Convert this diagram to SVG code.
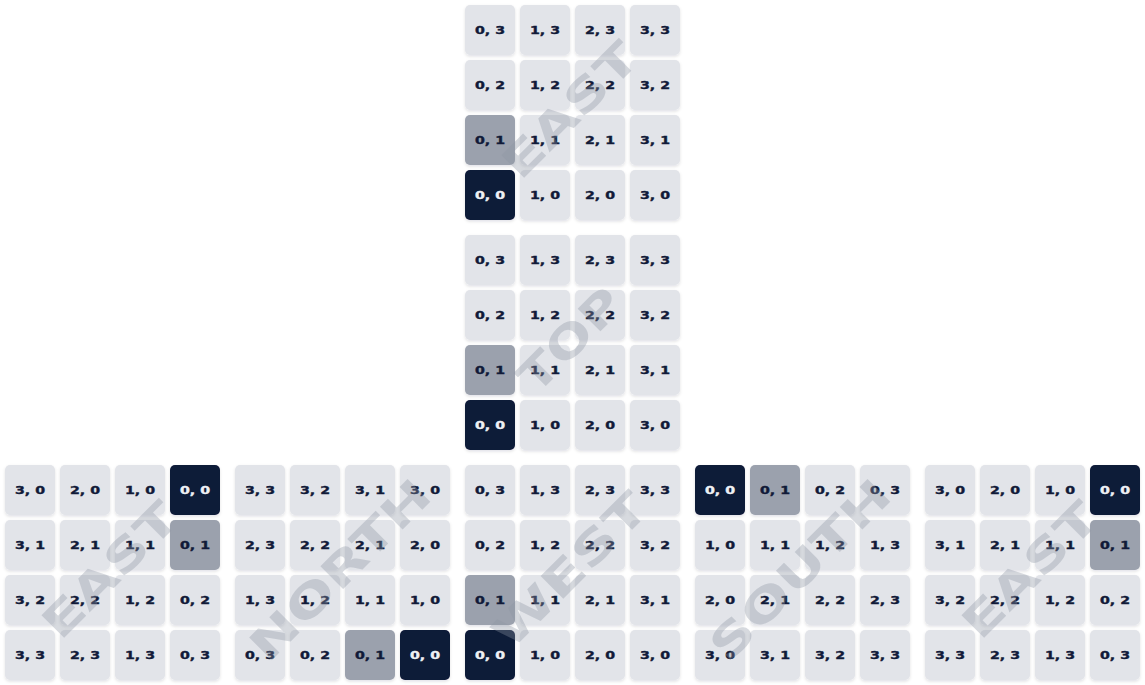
<svg xmlns="http://www.w3.org/2000/svg" width="1145" height="685" viewBox="0 0 1145 685">
<defs>
<filter id="sh" x="-20%" y="-20%" width="140%" height="150%"><feDropShadow dx="0" dy="1.5" stdDeviation="1.5" flood-color="#0f172a" flood-opacity="0.12"/></filter>
</defs>
<style>
rect{width:50px;height:50px;rx:5px;ry:5px;fill:#e2e4e9;filter:url(#sh)}
rect.g{fill:#9ba1ad}
rect.d{fill:#111a38}
text{font-family:"DejaVu Sans","Liberation Sans",sans-serif;font-weight:bold;font-size:11px;fill:#111a38;stroke:#111a38;stroke-width:0.4px;text-anchor:middle}
text.w{fill:#eef0f4;stroke:#eef0f4}
.wm{font-family:"DejaVu Sans","Liberation Sans",sans-serif;font-weight:bold;font-size:44px;fill:#8d94a3;fill-opacity:0.35;stroke:none;text-anchor:middle;dominant-baseline:central}
</style>
<rect x="0" y="0" width="1145" height="685" style="width:1145px;height:685px;fill:#ffffff;filter:none;rx:0;ry:0"/>

<g id="grid-east-top">
<g id="a03"><rect x="465" y="5"/><text x="490" y="34" textLength="30" lengthAdjust="spacingAndGlyphs">0, 3</text></g>
<g id="a13"><rect x="520" y="5"/><text x="545" y="34" textLength="30" lengthAdjust="spacingAndGlyphs">1, 3</text></g>
<g id="a23"><rect x="575" y="5"/><text x="600" y="34" textLength="30" lengthAdjust="spacingAndGlyphs">2, 3</text></g>
<g id="a33"><rect x="630" y="5"/><text x="655" y="34" textLength="30" lengthAdjust="spacingAndGlyphs">3, 3</text></g>
<g id="a02"><rect x="465" y="60"/><text x="490" y="89" textLength="30" lengthAdjust="spacingAndGlyphs">0, 2</text></g>
<g id="a12"><rect x="520" y="60"/><text x="545" y="89" textLength="30" lengthAdjust="spacingAndGlyphs">1, 2</text></g>
<g id="a22"><rect x="575" y="60"/><text x="600" y="89" textLength="30" lengthAdjust="spacingAndGlyphs">2, 2</text></g>
<g id="a32"><rect x="630" y="60"/><text x="655" y="89" textLength="30" lengthAdjust="spacingAndGlyphs">3, 2</text></g>
<g id="a01"><rect class="g" x="465" y="115"/><text x="490" y="144" textLength="30" lengthAdjust="spacingAndGlyphs">0, 1</text></g>
<g id="a11"><rect x="520" y="115"/><text x="545" y="144" textLength="30" lengthAdjust="spacingAndGlyphs">1, 1</text></g>
<g id="a21"><rect x="575" y="115"/><text x="600" y="144" textLength="30" lengthAdjust="spacingAndGlyphs">2, 1</text></g>
<g id="a31"><rect x="630" y="115"/><text x="655" y="144" textLength="30" lengthAdjust="spacingAndGlyphs">3, 1</text></g>
<g id="a00"><rect class="d" x="465" y="170"/><text class="w" x="490" y="199" textLength="30" lengthAdjust="spacingAndGlyphs">0, 0</text></g>
<g id="a10"><rect x="520" y="170"/><text x="545" y="199" textLength="30" lengthAdjust="spacingAndGlyphs">1, 0</text></g>
<g id="a20"><rect x="575" y="170"/><text x="600" y="199" textLength="30" lengthAdjust="spacingAndGlyphs">2, 0</text></g>
<g id="a30"><rect x="630" y="170"/><text x="655" y="199" textLength="30" lengthAdjust="spacingAndGlyphs">3, 0</text></g>
<text class="wm" transform="translate(570 110) rotate(-45)" textLength="172" lengthAdjust="spacingAndGlyphs">EAST</text>
</g>

<g id="grid-top">
<g id="b03"><rect x="465" y="235"/><text x="490" y="264" textLength="30" lengthAdjust="spacingAndGlyphs">0, 3</text></g>
<g id="b13"><rect x="520" y="235"/><text x="545" y="264" textLength="30" lengthAdjust="spacingAndGlyphs">1, 3</text></g>
<g id="b23"><rect x="575" y="235"/><text x="600" y="264" textLength="30" lengthAdjust="spacingAndGlyphs">2, 3</text></g>
<g id="b33"><rect x="630" y="235"/><text x="655" y="264" textLength="30" lengthAdjust="spacingAndGlyphs">3, 3</text></g>
<g id="b02"><rect x="465" y="290"/><text x="490" y="319" textLength="30" lengthAdjust="spacingAndGlyphs">0, 2</text></g>
<g id="b12"><rect x="520" y="290"/><text x="545" y="319" textLength="30" lengthAdjust="spacingAndGlyphs">1, 2</text></g>
<g id="b22"><rect x="575" y="290"/><text x="600" y="319" textLength="30" lengthAdjust="spacingAndGlyphs">2, 2</text></g>
<g id="b32"><rect x="630" y="290"/><text x="655" y="319" textLength="30" lengthAdjust="spacingAndGlyphs">3, 2</text></g>
<g id="b01"><rect class="g" x="465" y="345"/><text x="490" y="374" textLength="30" lengthAdjust="spacingAndGlyphs">0, 1</text></g>
<g id="b11"><rect x="520" y="345"/><text x="545" y="374" textLength="30" lengthAdjust="spacingAndGlyphs">1, 1</text></g>
<g id="b21"><rect x="575" y="345"/><text x="600" y="374" textLength="30" lengthAdjust="spacingAndGlyphs">2, 1</text></g>
<g id="b31"><rect x="630" y="345"/><text x="655" y="374" textLength="30" lengthAdjust="spacingAndGlyphs">3, 1</text></g>
<g id="b00"><rect class="d" x="465" y="400"/><text class="w" x="490" y="429" textLength="30" lengthAdjust="spacingAndGlyphs">0, 0</text></g>
<g id="b10"><rect x="520" y="400"/><text x="545" y="429" textLength="30" lengthAdjust="spacingAndGlyphs">1, 0</text></g>
<g id="b20"><rect x="575" y="400"/><text x="600" y="429" textLength="30" lengthAdjust="spacingAndGlyphs">2, 0</text></g>
<g id="b30"><rect x="630" y="400"/><text x="655" y="429" textLength="30" lengthAdjust="spacingAndGlyphs">3, 0</text></g>
<text class="wm" transform="translate(570 340) rotate(-45)" textLength="127" lengthAdjust="spacingAndGlyphs">TOP</text>
</g>

<g id="grid-east-left">
<g id="c30"><rect x="5" y="465"/><text x="30" y="494" textLength="30" lengthAdjust="spacingAndGlyphs">3, 0</text></g>
<g id="c20"><rect x="60" y="465"/><text x="85" y="494" textLength="30" lengthAdjust="spacingAndGlyphs">2, 0</text></g>
<g id="c10"><rect x="115" y="465"/><text x="140" y="494" textLength="30" lengthAdjust="spacingAndGlyphs">1, 0</text></g>
<g id="c00"><rect class="d" x="170" y="465"/><text class="w" x="195" y="494" textLength="30" lengthAdjust="spacingAndGlyphs">0, 0</text></g>
<g id="c31"><rect x="5" y="520"/><text x="30" y="549" textLength="30" lengthAdjust="spacingAndGlyphs">3, 1</text></g>
<g id="c21"><rect x="60" y="520"/><text x="85" y="549" textLength="30" lengthAdjust="spacingAndGlyphs">2, 1</text></g>
<g id="c11"><rect x="115" y="520"/><text x="140" y="549" textLength="30" lengthAdjust="spacingAndGlyphs">1, 1</text></g>
<g id="c01"><rect class="g" x="170" y="520"/><text x="195" y="549" textLength="30" lengthAdjust="spacingAndGlyphs">0, 1</text></g>
<g id="c32"><rect x="5" y="575"/><text x="30" y="604" textLength="30" lengthAdjust="spacingAndGlyphs">3, 2</text></g>
<g id="c22"><rect x="60" y="575"/><text x="85" y="604" textLength="30" lengthAdjust="spacingAndGlyphs">2, 2</text></g>
<g id="c12"><rect x="115" y="575"/><text x="140" y="604" textLength="30" lengthAdjust="spacingAndGlyphs">1, 2</text></g>
<g id="c02"><rect x="170" y="575"/><text x="195" y="604" textLength="30" lengthAdjust="spacingAndGlyphs">0, 2</text></g>
<g id="c33"><rect x="5" y="630"/><text x="30" y="659" textLength="30" lengthAdjust="spacingAndGlyphs">3, 3</text></g>
<g id="c23"><rect x="60" y="630"/><text x="85" y="659" textLength="30" lengthAdjust="spacingAndGlyphs">2, 3</text></g>
<g id="c13"><rect x="115" y="630"/><text x="140" y="659" textLength="30" lengthAdjust="spacingAndGlyphs">1, 3</text></g>
<g id="c03"><rect x="170" y="630"/><text x="195" y="659" textLength="30" lengthAdjust="spacingAndGlyphs">0, 3</text></g>
<text class="wm" transform="translate(110 570) rotate(-45)" textLength="172" lengthAdjust="spacingAndGlyphs">EAST</text>
</g>

<g id="grid-north">
<g id="d33"><rect x="235" y="465"/><text x="260" y="494" textLength="30" lengthAdjust="spacingAndGlyphs">3, 3</text></g>
<g id="d32"><rect x="290" y="465"/><text x="315" y="494" textLength="30" lengthAdjust="spacingAndGlyphs">3, 2</text></g>
<g id="d31"><rect x="345" y="465"/><text x="370" y="494" textLength="30" lengthAdjust="spacingAndGlyphs">3, 1</text></g>
<g id="d30"><rect x="400" y="465"/><text x="425" y="494" textLength="30" lengthAdjust="spacingAndGlyphs">3, 0</text></g>
<g id="d23"><rect x="235" y="520"/><text x="260" y="549" textLength="30" lengthAdjust="spacingAndGlyphs">2, 3</text></g>
<g id="d22"><rect x="290" y="520"/><text x="315" y="549" textLength="30" lengthAdjust="spacingAndGlyphs">2, 2</text></g>
<g id="d21"><rect x="345" y="520"/><text x="370" y="549" textLength="30" lengthAdjust="spacingAndGlyphs">2, 1</text></g>
<g id="d20"><rect x="400" y="520"/><text x="425" y="549" textLength="30" lengthAdjust="spacingAndGlyphs">2, 0</text></g>
<g id="d13"><rect x="235" y="575"/><text x="260" y="604" textLength="30" lengthAdjust="spacingAndGlyphs">1, 3</text></g>
<g id="d12"><rect x="290" y="575"/><text x="315" y="604" textLength="30" lengthAdjust="spacingAndGlyphs">1, 2</text></g>
<g id="d11"><rect x="345" y="575"/><text x="370" y="604" textLength="30" lengthAdjust="spacingAndGlyphs">1, 1</text></g>
<g id="d10"><rect x="400" y="575"/><text x="425" y="604" textLength="30" lengthAdjust="spacingAndGlyphs">1, 0</text></g>
<g id="d03"><rect x="235" y="630"/><text x="260" y="659" textLength="30" lengthAdjust="spacingAndGlyphs">0, 3</text></g>
<g id="d02"><rect x="290" y="630"/><text x="315" y="659" textLength="30" lengthAdjust="spacingAndGlyphs">0, 2</text></g>
<g id="d01"><rect class="g" x="345" y="630"/><text x="370" y="659" textLength="30" lengthAdjust="spacingAndGlyphs">0, 1</text></g>
<g id="d00"><rect class="d" x="400" y="630"/><text class="w" x="425" y="659" textLength="30" lengthAdjust="spacingAndGlyphs">0, 0</text></g>
<text class="wm" transform="translate(340 570) rotate(-45)" textLength="235" lengthAdjust="spacingAndGlyphs">NORTH</text>
</g>

<g id="grid-west">
<g id="e03"><rect x="465" y="465"/><text x="490" y="494" textLength="30" lengthAdjust="spacingAndGlyphs">0, 3</text></g>
<g id="e13"><rect x="520" y="465"/><text x="545" y="494" textLength="30" lengthAdjust="spacingAndGlyphs">1, 3</text></g>
<g id="e23"><rect x="575" y="465"/><text x="600" y="494" textLength="30" lengthAdjust="spacingAndGlyphs">2, 3</text></g>
<g id="e33"><rect x="630" y="465"/><text x="655" y="494" textLength="30" lengthAdjust="spacingAndGlyphs">3, 3</text></g>
<g id="e02"><rect x="465" y="520"/><text x="490" y="549" textLength="30" lengthAdjust="spacingAndGlyphs">0, 2</text></g>
<g id="e12"><rect x="520" y="520"/><text x="545" y="549" textLength="30" lengthAdjust="spacingAndGlyphs">1, 2</text></g>
<g id="e22"><rect x="575" y="520"/><text x="600" y="549" textLength="30" lengthAdjust="spacingAndGlyphs">2, 2</text></g>
<g id="e32"><rect x="630" y="520"/><text x="655" y="549" textLength="30" lengthAdjust="spacingAndGlyphs">3, 2</text></g>
<g id="e01"><rect class="g" x="465" y="575"/><text x="490" y="604" textLength="30" lengthAdjust="spacingAndGlyphs">0, 1</text></g>
<g id="e11"><rect x="520" y="575"/><text x="545" y="604" textLength="30" lengthAdjust="spacingAndGlyphs">1, 1</text></g>
<g id="e21"><rect x="575" y="575"/><text x="600" y="604" textLength="30" lengthAdjust="spacingAndGlyphs">2, 1</text></g>
<g id="e31"><rect x="630" y="575"/><text x="655" y="604" textLength="30" lengthAdjust="spacingAndGlyphs">3, 1</text></g>
<g id="e00"><rect class="d" x="465" y="630"/><text class="w" x="490" y="659" textLength="30" lengthAdjust="spacingAndGlyphs">0, 0</text></g>
<g id="e10"><rect x="520" y="630"/><text x="545" y="659" textLength="30" lengthAdjust="spacingAndGlyphs">1, 0</text></g>
<g id="e20"><rect x="575" y="630"/><text x="600" y="659" textLength="30" lengthAdjust="spacingAndGlyphs">2, 0</text></g>
<g id="e30"><rect x="630" y="630"/><text x="655" y="659" textLength="30" lengthAdjust="spacingAndGlyphs">3, 0</text></g>
<text class="wm" transform="translate(570 570) rotate(-45)" textLength="199" lengthAdjust="spacingAndGlyphs">WEST</text>
</g>

<g id="grid-south">
<g id="f00"><rect class="d" x="695" y="465"/><text class="w" x="720" y="494" textLength="30" lengthAdjust="spacingAndGlyphs">0, 0</text></g>
<g id="f01"><rect class="g" x="750" y="465"/><text x="775" y="494" textLength="30" lengthAdjust="spacingAndGlyphs">0, 1</text></g>
<g id="f02"><rect x="805" y="465"/><text x="830" y="494" textLength="30" lengthAdjust="spacingAndGlyphs">0, 2</text></g>
<g id="f03"><rect x="860" y="465"/><text x="885" y="494" textLength="30" lengthAdjust="spacingAndGlyphs">0, 3</text></g>
<g id="f10"><rect x="695" y="520"/><text x="720" y="549" textLength="30" lengthAdjust="spacingAndGlyphs">1, 0</text></g>
<g id="f11"><rect x="750" y="520"/><text x="775" y="549" textLength="30" lengthAdjust="spacingAndGlyphs">1, 1</text></g>
<g id="f12"><rect x="805" y="520"/><text x="830" y="549" textLength="30" lengthAdjust="spacingAndGlyphs">1, 2</text></g>
<g id="f13"><rect x="860" y="520"/><text x="885" y="549" textLength="30" lengthAdjust="spacingAndGlyphs">1, 3</text></g>
<g id="f20"><rect x="695" y="575"/><text x="720" y="604" textLength="30" lengthAdjust="spacingAndGlyphs">2, 0</text></g>
<g id="f21"><rect x="750" y="575"/><text x="775" y="604" textLength="30" lengthAdjust="spacingAndGlyphs">2, 1</text></g>
<g id="f22"><rect x="805" y="575"/><text x="830" y="604" textLength="30" lengthAdjust="spacingAndGlyphs">2, 2</text></g>
<g id="f23"><rect x="860" y="575"/><text x="885" y="604" textLength="30" lengthAdjust="spacingAndGlyphs">2, 3</text></g>
<g id="f30"><rect x="695" y="630"/><text x="720" y="659" textLength="30" lengthAdjust="spacingAndGlyphs">3, 0</text></g>
<g id="f31"><rect x="750" y="630"/><text x="775" y="659" textLength="30" lengthAdjust="spacingAndGlyphs">3, 1</text></g>
<g id="f32"><rect x="805" y="630"/><text x="830" y="659" textLength="30" lengthAdjust="spacingAndGlyphs">3, 2</text></g>
<g id="f33"><rect x="860" y="630"/><text x="885" y="659" textLength="30" lengthAdjust="spacingAndGlyphs">3, 3</text></g>
<text class="wm" transform="translate(800 570) rotate(-45)" textLength="235" lengthAdjust="spacingAndGlyphs">SOUTH</text>
</g>

<g id="grid-east-right">
<g id="g30"><rect x="925" y="465"/><text x="950" y="494" textLength="30" lengthAdjust="spacingAndGlyphs">3, 0</text></g>
<g id="g20"><rect x="980" y="465"/><text x="1005" y="494" textLength="30" lengthAdjust="spacingAndGlyphs">2, 0</text></g>
<g id="g10"><rect x="1035" y="465"/><text x="1060" y="494" textLength="30" lengthAdjust="spacingAndGlyphs">1, 0</text></g>
<g id="g00"><rect class="d" x="1090" y="465"/><text class="w" x="1115" y="494" textLength="30" lengthAdjust="spacingAndGlyphs">0, 0</text></g>
<g id="g31"><rect x="925" y="520"/><text x="950" y="549" textLength="30" lengthAdjust="spacingAndGlyphs">3, 1</text></g>
<g id="g21"><rect x="980" y="520"/><text x="1005" y="549" textLength="30" lengthAdjust="spacingAndGlyphs">2, 1</text></g>
<g id="g11"><rect x="1035" y="520"/><text x="1060" y="549" textLength="30" lengthAdjust="spacingAndGlyphs">1, 1</text></g>
<g id="g01"><rect class="g" x="1090" y="520"/><text x="1115" y="549" textLength="30" lengthAdjust="spacingAndGlyphs">0, 1</text></g>
<g id="g32"><rect x="925" y="575"/><text x="950" y="604" textLength="30" lengthAdjust="spacingAndGlyphs">3, 2</text></g>
<g id="g22"><rect x="980" y="575"/><text x="1005" y="604" textLength="30" lengthAdjust="spacingAndGlyphs">2, 2</text></g>
<g id="g12"><rect x="1035" y="575"/><text x="1060" y="604" textLength="30" lengthAdjust="spacingAndGlyphs">1, 2</text></g>
<g id="g02"><rect x="1090" y="575"/><text x="1115" y="604" textLength="30" lengthAdjust="spacingAndGlyphs">0, 2</text></g>
<g id="g33"><rect x="925" y="630"/><text x="950" y="659" textLength="30" lengthAdjust="spacingAndGlyphs">3, 3</text></g>
<g id="g23"><rect x="980" y="630"/><text x="1005" y="659" textLength="30" lengthAdjust="spacingAndGlyphs">2, 3</text></g>
<g id="g13"><rect x="1035" y="630"/><text x="1060" y="659" textLength="30" lengthAdjust="spacingAndGlyphs">1, 3</text></g>
<g id="g03"><rect x="1090" y="630"/><text x="1115" y="659" textLength="30" lengthAdjust="spacingAndGlyphs">0, 3</text></g>
<text class="wm" transform="translate(1030 570) rotate(-45)" textLength="172" lengthAdjust="spacingAndGlyphs">EAST</text>
</g>
</svg>
